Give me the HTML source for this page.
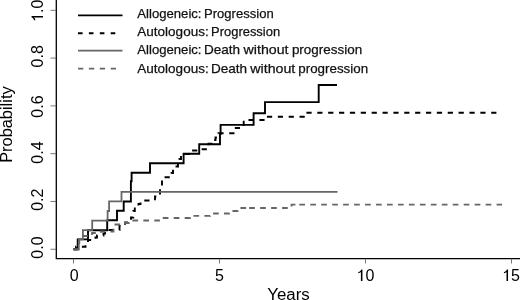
<!DOCTYPE html>
<html><head><meta charset="utf-8"><style>
html,body{margin:0;padding:0;background:#fff;width:520px;height:300px;overflow:hidden}
svg{display:block;filter:grayscale(1)}
.t{font-family:"Liberation Sans",sans-serif;font-size:16px;fill:#000}
.lg{font-family:"Liberation Sans",sans-serif;font-size:13.5px;fill:#111;stroke:#111;stroke-width:0.25px}
</style></head><body>
<svg width="520" height="300" viewBox="0 0 520 300">
<rect width="520" height="300" fill="#fff"/>
<path d="M56.3,0V258.6H520" stroke="#000" stroke-width="1.3" fill="none"/>
<line x1="50.5" y1="249.25" x2="56" y2="249.25" stroke="#555" stroke-width="0.8"/>
<text transform="translate(43,247.50) rotate(-90)" text-anchor="middle" class="t">0.0</text>
<line x1="50.5" y1="201.46" x2="56" y2="201.46" stroke="#555" stroke-width="0.8"/>
<text transform="translate(43,199.70) rotate(-90)" text-anchor="middle" class="t">0.2</text>
<line x1="50.5" y1="153.67" x2="56" y2="153.67" stroke="#555" stroke-width="0.8"/>
<text transform="translate(43,152.50) rotate(-90)" text-anchor="middle" class="t">0.4</text>
<line x1="50.5" y1="105.88" x2="56" y2="105.88" stroke="#555" stroke-width="0.8"/>
<text transform="translate(43,106.50) rotate(-90)" text-anchor="middle" class="t">0.6</text>
<line x1="50.5" y1="58.09" x2="56" y2="58.09" stroke="#555" stroke-width="0.8"/>
<text transform="translate(43,56.30) rotate(-90)" text-anchor="middle" class="t">0.8</text>
<line x1="50.5" y1="10.30" x2="56" y2="10.30" stroke="#555" stroke-width="0.8"/>
<g transform="translate(43,10.80) rotate(-90)"><path transform="translate(-11.12,0.00)" d="M5.85,0V-11.45H4.75C4.35,-10.3 3.4,-9.35 1.75,-8.85V-7.55C2.9,-7.85 3.8,-8.3 4.3,-8.9V0Z" fill="#000"/><text x="-2.22" y="0" class="t">.0</text></g>
<line x1="73.50" y1="258.5" x2="73.50" y2="263.5" stroke="#555" stroke-width="0.8"/>
<text x="74.10" y="280.9" text-anchor="middle" class="t">0</text>
<line x1="219.50" y1="258.5" x2="219.50" y2="263.5" stroke="#555" stroke-width="0.8"/>
<text x="219.50" y="280.9" text-anchor="middle" class="t">5</text>
<line x1="365.50" y1="258.5" x2="365.50" y2="263.5" stroke="#555" stroke-width="0.8"/>
<path transform="translate(356.60,280.90)" d="M5.85,0V-11.45H4.75C4.35,-10.3 3.4,-9.35 1.75,-8.85V-7.55C2.9,-7.85 3.8,-8.3 4.3,-8.9V0Z" fill="#000"/><text x="365.50" y="280.9" class="t">0</text>
<line x1="511.50" y1="258.5" x2="511.50" y2="263.5" stroke="#555" stroke-width="0.8"/>
<path transform="translate(502.20,280.90)" d="M5.85,0V-11.45H4.75C4.35,-10.3 3.4,-9.35 1.75,-8.85V-7.55C2.9,-7.85 3.8,-8.3 4.3,-8.9V0Z" fill="#000"/><text x="511.10" y="280.9" class="t">5</text>

<text transform="translate(11.6,124.6) rotate(-90)" text-anchor="middle" class="t" textLength="76.5" lengthAdjust="spacingAndGlyphs">Probability</text>
<text x="288.5" y="299.8" text-anchor="middle" class="t" textLength="42.5" lengthAdjust="spacingAndGlyphs">Years</text>
<line x1="78" y1="15.4" x2="122.5" y2="15.4" stroke="#000" stroke-width="1.9"/>
<text x="137.30" y="18.0" class="lg" textLength="64.21" lengthAdjust="spacingAndGlyphs">Allogeneic:</text>
<text x="204.04" y="18.0" class="lg" textLength="69.67" lengthAdjust="spacingAndGlyphs">Progression</text>
<line x1="78" y1="33.2" x2="116.2" y2="33.2" stroke="#000" stroke-width="1.9" stroke-dasharray="4.6 6.3"/>
<text x="137.30" y="35.7" class="lg" textLength="71.40" lengthAdjust="spacingAndGlyphs">Autologous:</text>
<text x="211.05" y="35.7" class="lg" textLength="69.05" lengthAdjust="spacingAndGlyphs">Progression</text>
<line x1="78" y1="50.7" x2="122.5" y2="50.7" stroke="#666666" stroke-width="1.8"/>
<text x="137.30" y="53.8" class="lg" textLength="64.21" lengthAdjust="spacingAndGlyphs">Allogeneic:</text>
<text x="204.00" y="53.8" class="lg" textLength="36.13" lengthAdjust="spacingAndGlyphs">Death</text>
<text x="243.60" y="53.8" class="lg" textLength="44.98" lengthAdjust="spacingAndGlyphs">without</text>
<text x="291.90" y="53.8" class="lg" textLength="70.23" lengthAdjust="spacingAndGlyphs">progression</text>
<line x1="78" y1="68.6" x2="116.2" y2="68.6" stroke="#666666" stroke-width="1.8" stroke-dasharray="5.3 5.6"/>
<text x="137.30" y="72.5" class="lg" textLength="71.40" lengthAdjust="spacingAndGlyphs">Autologous:</text>
<text x="211.00" y="72.5" class="lg" textLength="36.13" lengthAdjust="spacingAndGlyphs">Death</text>
<text x="250.30" y="72.5" class="lg" textLength="44.98" lengthAdjust="spacingAndGlyphs">without</text>
<text x="298.31" y="72.5" class="lg" textLength="69.82" lengthAdjust="spacingAndGlyphs">progression</text>

<path d="M73.50,249.30H77.70V239.40H88.00V230.20H107.20V220.20H117.00V210.80H123.70V201.50H130.90V181.30H131.60V172.80H150.00V163.20H183.60V153.80H199.20V144.20H220.00V134.00H220.60V124.90H253.60V113.30H265.00V102.10H318.70V85.00H337.00" stroke="#000" stroke-width="1.9" fill="none"/>
<path d="M73.50,249.30H76.00V246.80H85.50V242.30H88.00V240.00H95.50V237.50H97.00V235.50H103.50V233.50H105.00V230.00H119.50V226.00H125.00V222.50H131.00V217.50H133.30V211.00H134.80V208.50H138.50V204.00H140.50V200.50H155.00V196.50H160.00V186.50H162.00V177.30H171.50V173.00H173.00V169.50H176.50V166.50H178.00V164.00H179.50V159.00H181.00V154.00H192.00V150.50H199.20V149.20H208.50V143.80H213.80V140.00H215.50V137.50H218.50V133.30H234.50V128.00H243.70V120.00H248.50" stroke="#000" stroke-width="1.9" stroke-dasharray="5.2 5.67" stroke-dashoffset="0.0" fill="none"/>
<path d="M248.50,120.00H265.00V116.70H305.00V112.70H499.50" stroke="#000" stroke-width="1.9" stroke-dasharray="5.2 5.67" stroke-dashoffset="0.0" fill="none"/>
<path d="M73.50,249.30H78.80V239.40H82.90V230.20H92.20V220.60H107.60V211.00H109.10V201.40H121.50V191.80H337.50" stroke="#666666" stroke-width="1.8" fill="none"/>
<path d="M73.50,249.30H79.30V236.00H92.00V233.00H100.80V231.50H113.50V224.50H123.00V223.00H130.00V220.50H159.00V218.00H190.00V215.80H210.00V213.50H229.00V211.00H237.50V208.00H249.20" stroke="#666666" stroke-width="1.8" stroke-dasharray="5.7 5.26" stroke-dashoffset="0.0" fill="none"/>
<path d="M249.20,208.00H291.50V204.70H299.30" stroke="#666666" stroke-width="1.8" stroke-dasharray="5.7 5.26" stroke-dashoffset="0.0" fill="none"/>
<path d="M299.30,204.70H502.00" stroke="#666666" stroke-width="1.8" stroke-dasharray="5.7 5.26" stroke-dashoffset="0.0" fill="none"/>

</svg>
</body></html>
